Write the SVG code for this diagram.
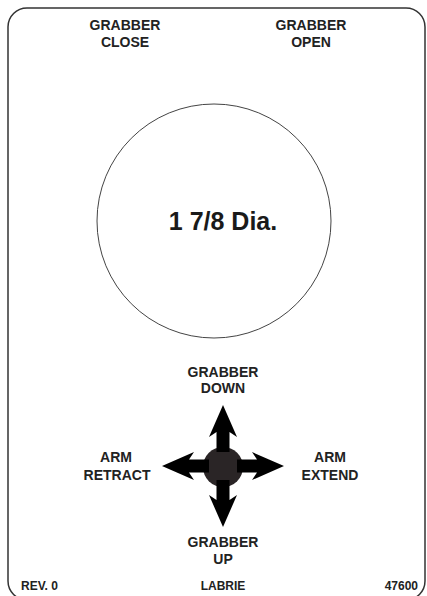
<svg xmlns="http://www.w3.org/2000/svg" width="427" height="596" viewBox="0 0 427 596">
<defs>
<style>
.t{font-family:"Liberation Sans",Arial,sans-serif;font-weight:bold;font-size:14px;fill:#222;text-anchor:middle}
.s{font-size:12px}
.big{font-size:25px;fill:#1a1a1a}
.arr{fill:#000}
</style>
<path id="a" d="M -6.5,-14 L -6.5,-34 L -14,-29 L 0,-61 L 14,-29 L 6.5,-34 L 6.5,-14 Z"/>
</defs>
<rect width="427" height="596" fill="#fff"/>
<rect id="border" x="8" y="8" width="417" height="592" rx="19" ry="19" fill="none" stroke="#333" stroke-width="1.5"/>
<g id="close"><text class="t" x="125" y="30">GRABBER</text><text class="t" x="125" y="47">CLOSE</text></g>
<g id="open"><text class="t" x="311" y="30">GRABBER</text><text class="t" x="311" y="47">OPEN</text></g>
<g id="hole"><circle cx="214" cy="221" r="117" fill="none" stroke="#444" stroke-width="1"/><text class="t big" x="223" y="230">1 7/8 Dia.</text></g>
<g id="down"><text class="t" x="223" y="377">GRABBER</text><text class="t" x="223" y="393">DOWN</text></g>
<g id="retract"><text class="t" x="116" y="462">ARM</text><text class="t" x="117" y="480">RETRACT</text></g>
<g id="extend"><text class="t" x="330" y="462">ARM</text><text class="t" x="330" y="480">EXTEND</text></g>
<g id="up"><text class="t" x="223" y="547">GRABBER</text><text class="t" x="223" y="564">UP</text></g>
<g id="joystick">
<circle cx="223" cy="467" r="20" fill="#2a2526"/>
<g class="arr" transform="translate(223,466)">
<use href="#a"/>
<use href="#a" transform="rotate(90)"/>
<use href="#a" transform="rotate(180)"/>
<use href="#a" transform="rotate(270)"/>
</g>
</g>
<g id="footer">
<text class="t s" x="21" y="590" style="text-anchor:start">REV. 0</text>
<text class="t s" x="223" y="590">LABRIE</text>
<text class="t s" x="418" y="590" style="text-anchor:end">47600</text>
</g>
</svg>
